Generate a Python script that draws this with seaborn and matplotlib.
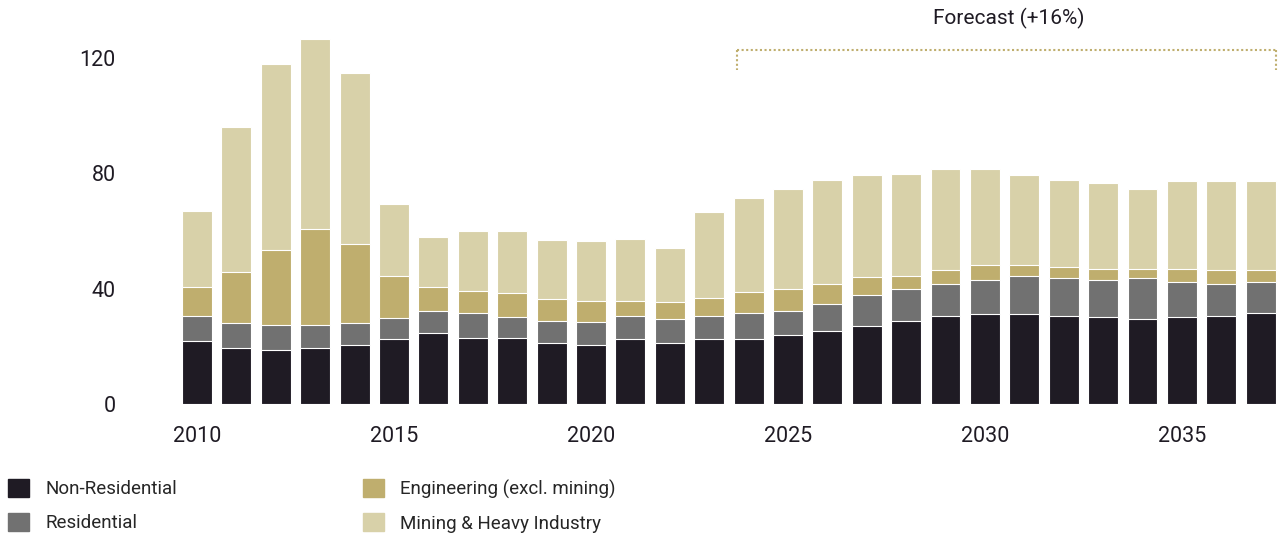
import numpy as np
import pandas as pd
import matplotlib.pyplot as plt
import seaborn as sns

# Values
years = list(range(2010, 2038))
non_residential = [21.9, 19.3, 18.7, 19.3, 20.5, 22.4, 24.5, 23.0, 23.0, 21.3,
                   20.5, 22.4, 21.3, 22.4, 22.4, 23.9, 25.4, 27.2, 28.9, 30.6,
                   31.2, 31.2, 30.6, 30.2, 29.6, 30.2, 30.6, 31.5]
residential = [8.7, 8.8, 8.8, 8.2, 7.6, 7.3, 7.8, 8.6, 7.3, 7.6,
               8.1, 8.1, 8.2, 8.1, 9.2, 8.4, 9.4, 10.6, 11.0, 11.0,
               11.8, 13.2, 13.0, 12.8, 14.0, 12.2, 11.0, 10.9]
engineering = [10.0, 17.7, 25.9, 33.2, 27.4, 14.7, 8.3, 7.7, 8.2, 7.6,
               7.1, 5.2, 5.9, 6.4, 7.4, 7.7, 6.9, 6.4, 4.6, 5.0,
               5.1, 3.7, 3.9, 3.8, 3.2, 4.4, 5.0, 4.2]
mining = [26.3, 50.3, 64.4, 66.1, 59.2, 25.0, 17.4, 20.6, 21.4, 20.5,
          20.8, 21.4, 18.6, 29.8, 32.5, 34.6, 36.1, 35.2, 35.3, 35.0,
          33.4, 31.3, 30.2, 29.9, 27.8, 30.4, 30.6, 30.6]
series_names = ['Non-Residential', 'Residential', 'Engineering (excl. mining)',
                'Mining & Heavy Industry']
colors = ['#1f1b24', '#717171', '#bfae6e', '#d8d1a9']
y_ticks = [0, 40, 80, 120]
x_tick_years = [2010, 2015, 2020, 2025, 2030, 2035]
forecast_label = 'Forecast (+16%)'

df = pd.DataFrame({'Year': years, 'Non-Residential': non_residential,
                   'Residential': residential,
                   'Engineering (excl. mining)': engineering,
                   'Mining & Heavy Industry': mining})

sns.set_style('white')
plt.rcParams['font.family'] = ['Roboto', 'DejaVu Sans']

fig = plt.figure(figsize=(12.78, 5.35), dpi=100)
# axes placed in pixel terms: left 160, right 1278, bottom y=404, top y=10
ax = fig.add_axes([160 / 1278, (535 - 404) / 535, (1278 - 160) / 1278, (404 - 10) / 535])

# stacked bars: draw cumulative totals from the top series down
cum = df[series_names].cumsum(axis=1)
for name, color in reversed(list(zip(series_names, colors))):
    sns.barplot(x=df['Year'].astype(str), y=cum[name], color=color, width=0.76,
                saturation=1, edgecolor='white', linewidth=0.8, ax=ax)

ax.set_xlim(-0.94, 27.44)
ax.set_ylim(0, 136.7)
ax.set_yticks(y_ticks)
ax.set_yticklabels([str(v) for v in y_ticks])
ax.set_xticks([y - 2010 for y in x_tick_years])
ax.set_xticklabels([str(y) for y in x_tick_years])
ax.set_xlabel('')
ax.set_ylabel('')
ax.tick_params(axis='y', length=0, pad=32, labelsize=15.5, labelcolor='#1f1b24')
ax.tick_params(axis='x', length=0, pad=16, labelsize=15.5, labelcolor='#1f1b24')
sns.despine(ax=ax, left=True, bottom=True)

# forecast bracket
bx0, bx1, by, bdrop = 13.7, 27.39, 122.8, 115.9
ax.plot([bx0, bx1], [by, by], color='#bfae6e', lw=1.5, ls=(0, (1, 1.2)), clip_on=False)
ax.plot([bx0, bx0], [by, bdrop], color='#bfae6e', lw=1.5, ls=(0, (1, 1.2)), clip_on=False)
ax.plot([bx1, bx1], [by, bdrop], color='#bfae6e', lw=1.5, ls=(0, (1, 1.2)), clip_on=False)
ax.text(20.6, 133.9, forecast_label, ha='center', va='center', fontsize=15,
        color='#1f1b24', clip_on=False)

# legend (two columns below the chart)
handles = [plt.Rectangle((0, 0), 1, 1, color=c) for c in colors]
fig.legend(handles, series_names, ncol=2, loc='upper left',
           bbox_to_anchor=(8 / 1278, 1 - 479 / 535), frameon=False, fontsize=13.5,
           handlelength=1.1, handleheight=1.1, handletextpad=0.9,
           columnspacing=9.9, labelspacing=0.78, borderpad=0, borderaxespad=0.0)

fig.savefig('out.png', dpi=100)
